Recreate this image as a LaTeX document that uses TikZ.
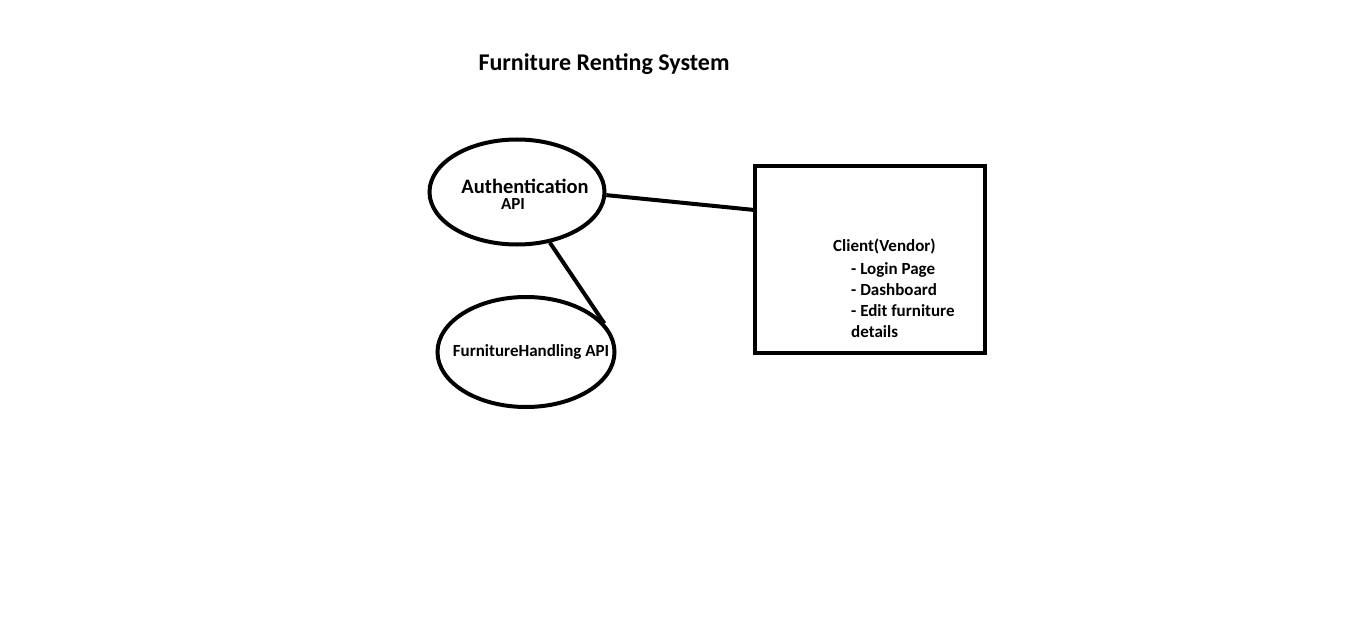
\documentclass[tikz,border=0pt]{standalone}
\usepackage{fontspec}
\setmainfont{Carlito}
\usetikzlibrary{shapes.geometric,positioning,calc}

\tikzset{
    apibox/.style={draw, ellipse, line width=4pt, minimum width=175pt, minimum height=105pt},
    clientbox/.style={draw, rectangle, line width=4pt, minimum width=230pt, minimum height=187pt},
    link/.style={line width=4pt},
    lbl/.style={font=\bfseries\fontsize{17}{21}\selectfont, inner sep=0pt}
}

\begin{document}
\begin{tikzpicture}[x=1pt, y=-1pt]
    \useasboundingbox (0,0) rectangle (1360,623);

    % Titre
    \node[font=\bfseries\fontsize{24}{28}\selectfont] (title) at (604,64) {Furniture Renting System};

    % Composants
    \node[apibox] (auth) at (517,192) {};
    \node[apibox, minimum width=177pt, minimum height=110pt] (furn) at (526,352) {};
    \node[clientbox] (client) at (870,259.5) {};

    % Textes
    \node[lbl, font=\bfseries\fontsize{20.5}{24}\selectfont] (authtxt) at (525,186) {Authentication};
    \node[lbl] (authapi) at (513,204) {API};
    \node[lbl] (furntxt) at (531,352) {FurnitureHandling API};
    \node[lbl, align=left, anchor=base west] (clienttxt) at (833,337)
        {Client(Vendor)\\[2pt]
         \hspace*{18pt}- Login Page\\
         \hspace*{18pt}- Dashboard\\
         \hspace*{18pt}- Edit furniture\\
         \hspace*{18pt}details};

    % Liens
    \draw[link] (auth.-2) -- ($(client.north west)!0.24!(client.south west)$);
    \draw[link] (auth.-57) -- (furn.20);
\end{tikzpicture}
\end{document}
